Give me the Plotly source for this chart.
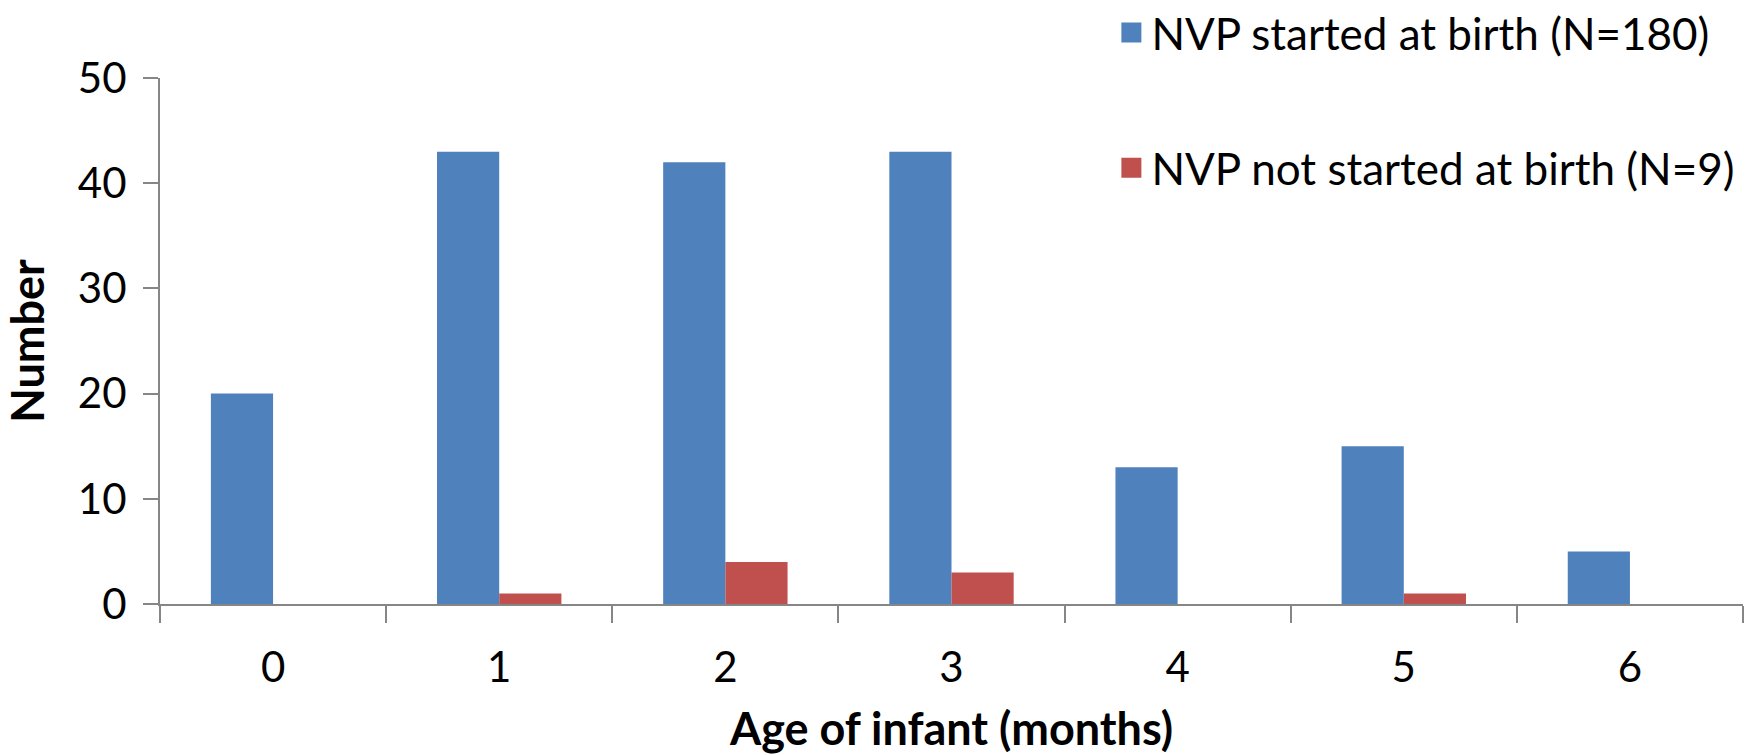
import plotly.graph_objects as go

# Age of infant (months) at which HIV infection was detected
ages = ["0", "1", "2", "3", "4", "5", "6"]
nvp_started = [20, 43, 42, 43, 13, 15, 5]
nvp_not_started = [0, 1, 4, 3, 0, 1, 0]

series_names = ["NVP started at birth (N=180)", "NVP not started at birth (N=9)"]
series_colors = ["#4F81BD", "#C0504D"]

FONT = "Lato, Open Sans, sans-serif"
AXIS_GREY = "#868686"

fig = go.Figure()
for vals, name, color, grp in zip([nvp_started, nvp_not_started], series_names,
                                  series_colors, ["a", "b"]):
    fig.add_trace(go.Bar(x=ages, y=vals, name=name, showlegend=False,
                         marker=dict(color=color, line=dict(width=0)),
                         legendgroup=grp))
    # legend-only entry with a larger square swatch
    fig.add_trace(go.Scatter(x=[None], y=[None], mode="markers", name=name,
                             marker=dict(symbol="square", size=20, color=color,
                                         line=dict(color=color, width=4)),
                             legendgroup=grp, showlegend=True))

fig.update_layout(
    width=1754, height=755,
    margin=dict(l=160, r=11, t=78, b=151, autoexpand=False),
    paper_bgcolor="white", plot_bgcolor="white",
    barmode="group", bargap=0.45, bargroupgap=0,
    font=dict(family=FONT, color="black", size=44),
    showlegend=True,
    legend=dict(x=0.601, y=1.153, xanchor="left", yanchor="top",
                font=dict(size=44, family=FONT), tracegroupgap=75,
                bgcolor="rgba(0,0,0,0)", itemwidth=30, itemsizing="trace"),
    xaxis=dict(
        type="category", tickson="boundaries",
        showline=True, linecolor=AXIS_GREY, linewidth=2,
        ticks="outside", ticklen=17, tickwidth=2, tickcolor=AXIS_GREY,
        showgrid=False, zeroline=False,
        tickfont=dict(size=42, family=FONT), ticklabelstandoff=26,
        title=dict(text="<b>Age of infant (months)</b>", font=dict(size=45, family=FONT), standoff=27),
    ),
    yaxis=dict(
        range=[0, 50], dtick=10, tick0=0,
        showline=True, linecolor=AXIS_GREY, linewidth=2,
        ticks="outside", ticklen=15, tickwidth=2, tickcolor=AXIS_GREY,
        showgrid=False, zeroline=False,
        tickfont=dict(size=42, family=FONT), ticklabelstandoff=8,
        title=dict(text="<b>Number</b>", font=dict(size=45, family=FONT), standoff=22),
    ),
)

fig.write_html("out.html")
